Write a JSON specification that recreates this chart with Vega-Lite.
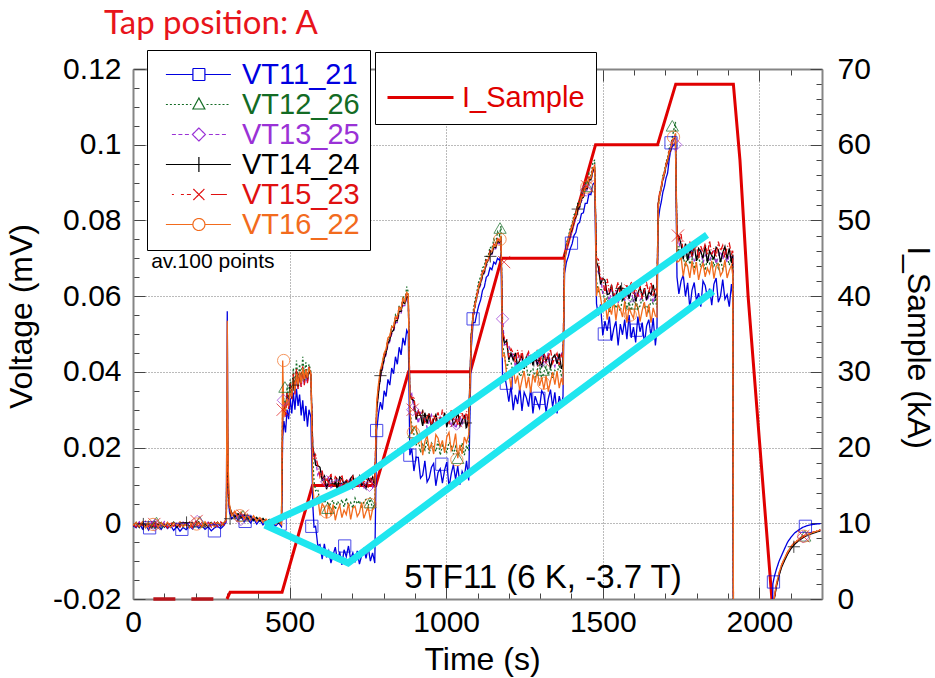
{
  "$schema": "https://vega.github.io/schema/vega-lite/v6.json",
  "width": 689,
  "height": 530,
  "autosize": {"type": "none"},
  "padding": {"left": 133, "top": 69, "right": 113, "bottom": 79},
  "background": "white",
  "config": {
    "view": {"stroke": null},
    "font": "Liberation Sans",
    "axis": {"labelFont": "Liberation Sans", "titleFont": "Liberation Sans", "labelColor": "black", "titleColor": "black", "titleFontWeight": "normal", "labelFlush": false, "labelOverlap": false}
  },
  "title": {"text": "Tap position: A", "anchor": "start", "frame": "group", "font": "Lato", "fontSize": 33, "fontWeight": "normal", "color": "#e8141b", "dx": -29, "offset": -17, "baseline": "alphabetic"},
  "layer": [
    {
      "data": {
        "values": "t,I\n65,0\n300,0\n310,0.9\n476,0.9\n573,15\n775,15\n880,30\n1077,30\n1177,45\n1375,45\n1477,60\n1675,60\n1733,68\n1917,68\n1938,58\n1964,40\n2002,20\n2040,0",
        "format": {"type": "csv", "parse": {"t": "number", "I": "number"}}
      },
      "encoding": {
        "x": {
          "field": "t", "type": "quantitative",
          "scale": {"domain": [0, 2200], "nice": false, "zero": false},
          "axis": {
            "orient": "top", "title": null, "labels": false,
            "values": [0,100,200,300,400,500,600,700,800,900,1000,1100,1200,1300,1400,1500,1600,1700,1800,1900,2000,2100,2200],
            "tickSize": {"condition": {"test": "datum.value % 500 === 0", "value": -12}, "value": -6},
            "tickColor": "#444444", "tickWidth": 1,
            "domainColor": "#858585", "domainWidth": 2, "grid": false
          }
        },
        "y": {
          "field": "I", "type": "quantitative",
          "scale": {"domain": [0, 70], "nice": false, "zero": false},
          "axis": {
            "orient": "right", "title": "I_Sample (kA)", "format": "d",
            "values": [0,2,4,6,8,10,12,14,16,18,20,22,24,26,28,30,32,34,36,38,40,42,44,46,48,50,52,54,56,58,60,62,64,66,68,70],
            "labelExpr": "datum.value % 10 === 0 ? datum.label : ''",
            "labelFontSize": 30, "labelPadding": 27,
            "tickSize": {"condition": {"test": "datum.value % 10 === 0", "value": -12}, "value": -6},
            "tickColor": "#444444", "tickWidth": 1,
            "domainColor": "#858585", "domainWidth": 2, "grid": false,
            "titleFontSize": 32, "titleAngle": 90, "titleX": 95, "titleY": 278, "titleBaseline": "middle", "titleAlign": "center"
          }
        }
      },
      "layer": [
        {
          "transform": [{"filter": "datum.t <= 300"}],
          "mark": {"type": "line", "color": "#b8141a", "strokeWidth": 3.5, "strokeDash": [22, 16]}
        },
        {
          "transform": [{"filter": "datum.t >= 300"}],
          "mark": {"type": "line", "strokeWidth": 3, "strokeJoin": "miter"},
          "encoding": {
            "color": {
              "datum": "I_Sample",
              "scale": {"domain": ["I_Sample"], "range": ["#e00000"]},
              "legend": {
                "title": null, "orient": "none", "legendX": 242, "legendY": -17,
                "padding": 11, "strokeColor": "#000000", "fillColor": "#ffffff",
                "symbolType": "M-1,0H1", "symbolSize": 4356, "symbolStrokeWidth": 3,
                "labelFont": "Liberation Sans", "labelFontSize": 29, "labelOffset": 7, "labelColor": "#e00000", "labelLimit": 300
              }
            }
          }
        }
      ]
    },
    {
      "encoding": {
        "x": {
          "field": "t", "type": "quantitative",
          "scale": {"domain": [0, 2200], "nice": false, "zero": false},
          "axis": {
            "orient": "bottom", "title": "Time (s)", "format": "d",
            "values": [0,100,200,300,400,500,600,700,800,900,1000,1100,1200,1300,1400,1500,1600,1700,1800,1900,2000,2100,2200],
            "labelExpr": "datum.value % 500 === 0 ? datum.label : ''",
            "labelFontSize": 30, "labelPadding": 20,
            "tickSize": {"condition": {"test": "datum.value % 500 === 0", "value": -12}, "value": -6},
            "tickColor": "#444444", "tickWidth": 1,
            "domainColor": "#858585", "domainWidth": 2,
            "grid": true, "gridColor": "#777777", "gridDash": [1, 2], "gridWidth": 1,
            "gridOpacity": {"condition": {"test": "datum.value % 500 === 0 && datum.value > 0", "value": 1}, "value": 0},
            "titleFontSize": 32, "titleX": 349, "titleY": 60, "titleBaseline": "middle"
          }
        },
        "y": {
          "field": "v", "type": "quantitative",
          "scale": {"domain": [-0.02, 0.12], "nice": false, "zero": false},
          "axis": {
            "orient": "left", "title": "Voltage (mV)",
            "values": [-0.02,-0.015,-0.01,-0.005,0,0.005,0.01,0.015,0.02,0.025,0.03,0.035,0.04,0.045,0.05,0.055,0.06,0.065,0.07,0.075,0.08,0.085,0.09,0.095,0.1,0.105,0.11,0.115,0.12],
            "labelExpr": "abs(datum.value * 50 - round(datum.value * 50)) < 0.001 ? (datum.value < 0 ? '-' + format(-datum.value, '~g') : format(datum.value, '~g')) : ''",
            "labelFontSize": 30, "labelPadding": 24,
            "tickSize": {"condition": {"test": "abs(datum.value * 50 - round(datum.value * 50)) < 0.001", "value": -12}, "value": -6},
            "tickColor": "#444444", "tickWidth": 1,
            "domainColor": "#858585", "domainWidth": 2,
            "grid": true, "gridColor": "#777777", "gridDash": [1, 2], "gridWidth": 1,
            "gridOpacity": {"condition": {"test": "abs(datum.value * 50 - round(datum.value * 50)) < 0.001 && datum.value > -0.019 && datum.value < 0.119", "value": 1}, "value": 0},
            "titleFontSize": 32, "titleAngle": -90, "titleX": -112, "titleY": 247, "titleBaseline": "middle", "titleAlign": "center"
          }
        }
      },
      "layer": [
        {
          "data": {
            "values": "t,VT11_21,VT12_26,VT13_25,VT14_24,VT15_23,VT16_22\n0,-0.0006,-0.0004,-0.0002,-0.0007,-0.0003,-0.0005\n10,-0.0012,0.0003,-0.0009,0.0001,-0.0010,0.0002\n20,0.0002,-0.0010,0.0004,-0.0011,0.0003,-0.0009\n30,-0.0015,0.0001,-0.0006,0.0002,-0.0006,0.0004\n40,-0.0004,-0.0008,0.0002,-0.0009,0.0005,-0.0012\n50,-0.0018,0.0004,-0.0011,0.0000,-0.0009,0.0001\n60,0.0001,-0.0006,0.0003,-0.0012,0.0002,-0.0007\n70,-0.0013,0.0002,-0.0008,0.0003,-0.0011,0.0005\n80,-0.0005,-0.0011,0.0001,-0.0005,0.0004,-0.0010\n90,-0.0016,0.0003,-0.0010,0.0002,-0.0007,0.0002\n100,-0.0003,-0.0007,0.0004,-0.0010,0.0001,-0.0008\n110,-0.0014,0.0001,-0.0007,0.0001,-0.0012,0.0003\n120,-0.0006,-0.0009,0.0002,-0.0008,0.0003,-0.0011\n130,-0.0019,0.0004,-0.0012,0.0003,-0.0008,0.0001\n140,-0.0008,-0.0005,0.0001,-0.0011,0.0002,-0.0006\n150,-0.0021,0.0002,-0.0009,0.0000,-0.0010,0.0004\n160,-0.0011,-0.0010,0.0003,-0.0007,0.0004,-0.0009\n170,-0.0017,0.0003,-0.0006,0.0002,-0.0006,0.0000\n180,-0.0007,-0.0008,0.0002,-0.0010,0.0003,-0.0012\n190,-0.0015,0.0001,-0.0011,0.0001,-0.0011,0.0003\n200,-0.0004,-0.0006,0.0005,-0.0008,0.0006,-0.0007\n210,-0.0013,0.0004,-0.0008,0.0003,-0.0009,0.0002\n220,-0.0006,-0.0009,0.0001,-0.0009,0.0002,-0.0010\n230,-0.0016,0.0002,-0.0010,0.0000,-0.0007,0.0004\n240,-0.0009,-0.0007,0.0003,-0.0011,0.0004,-0.0008\n250,-0.0020,0.0003,-0.0007,0.0002,-0.0010,0.0001\n260,-0.0012,-0.0010,0.0002,-0.0006,0.0003,-0.0009\n270,-0.0008,0.0002,-0.0009,0.0003,-0.0008,0.0003\n280,-0.0014,-0.0006,0.0001,-0.0008,0.0004,-0.0006\n290,-0.0006,0.0003,-0.0005,0.0001,-0.0005,0.0002\n298,0.0004,0.0008,0.0006,0.0010,0.0007,0.0009\n301,0.0560,0.0300,0.0330,0.0275,0.0240,0.0535\n304,0.0080,0.0090,0.0120,0.0100,0.0085,0.0150\n308,0.0030,0.0040,0.0035,0.0045,0.0038,0.0050\n315,0.0012,0.0025,0.0018,0.0028,0.0022,0.0020\n325,0.0022,0.0015,0.0030,0.0016,0.0031,0.0032\n335,0.0008,0.0028,0.0012,0.0025,0.0018,0.0014\n345,0.0018,0.0012,0.0024,0.0014,0.0027,0.0030\n355,0.0004,0.0024,0.0010,0.0022,0.0012,0.0011\n365,0.0015,0.0009,0.0021,0.0011,0.0023,0.0024\n375,0.0001,0.0020,0.0006,0.0018,0.0009,0.0008\n385,0.0012,0.0007,0.0017,0.0008,0.0019,0.0020\n395,-0.0002,0.0016,0.0004,0.0015,0.0006,0.0005\n405,0.0009,0.0004,0.0013,0.0006,0.0016,0.0015\n415,-0.0004,0.0013,0.0001,0.0012,0.0003,0.0003\n425,0.0006,0.0002,0.0010,0.0003,0.0012,0.0011\n435,-0.0006,0.0010,-0.0001,0.0009,0.0001,0.0000\n445,0.0003,0.0001,0.0008,0.0002,0.0010,0.0009\n455,-0.0008,0.0008,-0.0002,0.0007,-0.0001,-0.0002\n465,0.0001,-0.0001,0.0006,0.0000,0.0007,0.0006\n474,-0.0009,0.0006,-0.0003,0.0005,-0.0002,-0.0003\n478,0.0230,0.0320,0.0300,0.0290,0.0280,0.0430\n482,0.0270,0.0330,0.0310,0.0300,0.0320,0.0280\n487,0.0240,0.0290,0.0280,0.0310,0.0285,0.0305\n492,0.0300,0.0360,0.0330,0.0340,0.0345,0.0330\n497,0.0275,0.0320,0.0310,0.0315,0.0300,0.0310\n502,0.0330,0.0380,0.0350,0.0365,0.0370,0.0355\n507,0.0290,0.0345,0.0330,0.0330,0.0325,0.0335\n512,0.0345,0.0410,0.0370,0.0385,0.0395,0.0380\n517,0.0300,0.0360,0.0345,0.0350,0.0340,0.0350\n522,0.0355,0.0430,0.0385,0.0400,0.0410,0.0395\n527,0.0310,0.0375,0.0355,0.0360,0.0355,0.0365\n532,0.0340,0.0420,0.0390,0.0395,0.0400,0.0400\n537,0.0285,0.0380,0.0360,0.0370,0.0360,0.0370\n542,0.0325,0.0440,0.0400,0.0405,0.0415,0.0410\n547,0.0270,0.0390,0.0365,0.0375,0.0365,0.0380\n552,0.0310,0.0425,0.0395,0.0400,0.0410,0.0405\n557,0.0255,0.0385,0.0370,0.0380,0.0370,0.0385\n562,0.0300,0.0420,0.0400,0.0405,0.0415,0.0410\n568,0.0280,0.0400,0.0385,0.0390,0.0395,0.0395\n574,0.0050,0.0170,0.0190,0.0200,0.0205,0.0100\n578,-0.0010,0.0110,0.0175,0.0185,0.0170,0.0060\n583,-0.0008,0.0086,0.0169,0.0154,0.0181,0.0065\n590,-0.0059,0.0090,0.0128,0.0152,0.0153,0.0071\n597,-0.0056,0.0055,0.0140,0.0148,0.0123,0.0021\n604,-0.0095,0.0066,0.0134,0.0114,0.0139,0.0052\n611,-0.0054,0.0053,0.0102,0.0125,0.0102,0.0042\n618,-0.0090,0.0066,0.0103,0.0090,0.0119,0.0013\n625,-0.0073,0.0042,0.0123,0.0112,0.0107,0.0053\n632,-0.0105,0.0054,0.0094,0.0121,0.0130,0.0020\n639,-0.0083,0.0061,0.0100,0.0099,0.0098,0.0050\n646,-0.0063,0.0037,0.0114,0.0108,0.0123,0.0008\n653,-0.0100,0.0058,0.0119,0.0092,0.0116,0.0033\n660,-0.0075,0.0048,0.0089,0.0122,0.0103,0.0048\n667,-0.0110,0.0063,0.0107,0.0117,0.0128,0.0015\n674,-0.0070,0.0043,0.0112,0.0103,0.0094,0.0035\n681,-0.0088,0.0067,0.0092,0.0113,0.0117,0.0023\n688,-0.0060,0.0045,0.0110,0.0094,0.0108,0.0053\n695,-0.0095,0.0055,0.0121,0.0119,0.0101,0.0010\n702,-0.0078,0.0040,0.0087,0.0126,0.0125,0.0040\n709,-0.0103,0.0066,0.0105,0.0097,0.0119,0.0045\n716,-0.0073,0.0051,0.0118,0.0104,0.0096,0.0018\n723,-0.0108,0.0060,0.0098,0.0124,0.0114,0.0028\n730,-0.0085,0.0039,0.0116,0.0101,0.0126,0.0055\n737,-0.0065,0.0057,0.0091,0.0106,0.0103,0.0013\n744,-0.0093,0.0063,0.0109,0.0092,0.0123,0.0030\n751,-0.0063,0.0046,0.0101,0.0119,0.0094,0.0043\n758,-0.0100,0.0064,0.0123,0.0110,0.0117,0.0008\n765,-0.0078,0.0037,0.0096,0.0122,0.0105,0.0038\n772,-0.0105,0.0055,0.0112,0.0095,0.0128,0.0045\n778,0.0245,0.0300,0.0290,0.0300,0.0310,0.0320\n784,0.0290,0.0360,0.0350,0.0345,0.0360,0.0370\n790,0.0320,0.0400,0.0385,0.0390,0.0395,0.0405\n796,0.0300,0.0420,0.0405,0.0410,0.0420,0.0425\n802,0.0350,0.0450,0.0430,0.0435,0.0445,0.0450\n808,0.0335,0.0455,0.0445,0.0450,0.0455,0.0460\n814,0.0380,0.0490,0.0470,0.0475,0.0485,0.0490\n820,0.0365,0.0490,0.0480,0.0485,0.0490,0.0495\n826,0.0410,0.0520,0.0500,0.0505,0.0515,0.0520\n832,0.0395,0.0515,0.0505,0.0510,0.0515,0.0520\n838,0.0440,0.0550,0.0530,0.0535,0.0545,0.0545\n844,0.0420,0.0540,0.0530,0.0535,0.0540,0.0545\n850,0.0465,0.0575,0.0555,0.0560,0.0570,0.0570\n856,0.0445,0.0565,0.0555,0.0560,0.0565,0.0565\n862,0.0490,0.0600,0.0575,0.0585,0.0590,0.0595\n868,0.0470,0.0585,0.0575,0.0580,0.0585,0.0585\n874,0.0510,0.0625,0.0595,0.0600,0.0610,0.0610\n879,0.0500,0.0610,0.0590,0.0595,0.0600,0.0605\n884,0.0180,0.0300,0.0335,0.0340,0.0345,0.0300\n890,0.0197,0.0260,0.0342,0.0328,0.0329,0.0236\n897,0.0138,0.0235,0.0297,0.0324,0.0335,0.0252\n904,0.0175,0.0206,0.0296,0.0274,0.0282,0.0257\n911,0.0174,0.0227,0.0263,0.0296,0.0298,0.0209\n918,0.0119,0.0187,0.0294,0.0285,0.0280,0.0233\n925,0.0127,0.0208,0.0264,0.0257,0.0298,0.0180\n932,0.0165,0.0194,0.0278,0.0292,0.0263,0.0216\n939,0.0109,0.0220,0.0252,0.0263,0.0280,0.0231\n946,0.0120,0.0184,0.0270,0.0290,0.0291,0.0195\n953,0.0148,0.0212,0.0286,0.0252,0.0256,0.0210\n960,0.0158,0.0204,0.0256,0.0274,0.0287,0.0183\n967,0.0099,0.0190,0.0276,0.0287,0.0271,0.0234\n974,0.0134,0.0218,0.0248,0.0259,0.0293,0.0225\n981,0.0144,0.0180,0.0280,0.0276,0.0265,0.0201\n988,0.0106,0.0206,0.0266,0.0265,0.0300,0.0219\n995,0.0141,0.0196,0.0288,0.0292,0.0267,0.0186\n1002,0.0162,0.0188,0.0260,0.0254,0.0282,0.0228\n1009,0.0095,0.0214,0.0274,0.0281,0.0260,0.0240\n1016,0.0130,0.0208,0.0254,0.0285,0.0298,0.0192\n1023,0.0155,0.0182,0.0278,0.0261,0.0276,0.0204\n1030,0.0116,0.0202,0.0250,0.0270,0.0289,0.0237\n1037,0.0151,0.0178,0.0268,0.0294,0.0258,0.0172\n1044,0.0102,0.0190,0.0284,0.0257,0.0285,0.0207\n1051,0.0137,0.0212,0.0262,0.0272,0.0293,0.0183\n1058,0.0123,0.0180,0.0286,0.0283,0.0269,0.0228\n1065,0.0165,0.0206,0.0256,0.0252,0.0296,0.0213\n1072,0.0113,0.0192,0.0274,0.0279,0.0256,0.0234\n1080,0.0460,0.0500,0.0490,0.0495,0.0500,0.0480\n1086,0.0530,0.0560,0.0540,0.0545,0.0555,0.0550\n1092,0.0530,0.0590,0.0570,0.0575,0.0580,0.0575\n1098,0.0555,0.0610,0.0595,0.0600,0.0605,0.0600\n1104,0.0575,0.0640,0.0615,0.0620,0.0630,0.0625\n1110,0.0590,0.0650,0.0630,0.0635,0.0640,0.0640\n1116,0.0615,0.0675,0.0650,0.0655,0.0665,0.0660\n1122,0.0625,0.0680,0.0660,0.0665,0.0670,0.0670\n1128,0.0650,0.0705,0.0680,0.0685,0.0695,0.0690\n1134,0.0655,0.0705,0.0690,0.0695,0.0700,0.0695\n1140,0.0675,0.0730,0.0705,0.0710,0.0720,0.0715\n1146,0.0670,0.0725,0.0710,0.0712,0.0718,0.0718\n1152,0.0690,0.0750,0.0725,0.0730,0.0738,0.0735\n1158,0.0685,0.0740,0.0725,0.0728,0.0732,0.0732\n1164,0.0700,0.0770,0.0740,0.0745,0.0752,0.0750\n1170,0.0695,0.0760,0.0738,0.0742,0.0748,0.0745\n1175,0.0710,0.0785,0.0750,0.0755,0.0745,0.0760\n1180,0.0380,0.0470,0.0540,0.0500,0.0505,0.0440\n1186,0.0393,0.0444,0.0471,0.0476,0.0489,0.0446\n1193,0.0361,0.0408,0.0474,0.0483,0.0487,0.0393\n1200,0.0321,0.0428,0.0472,0.0432,0.0438,0.0401\n1207,0.0364,0.0427,0.0436,0.0449,0.0461,0.0359\n1214,0.0299,0.0394,0.0450,0.0431,0.0450,0.0410\n1221,0.0339,0.0398,0.0412,0.0450,0.0423,0.0369\n1228,0.0315,0.0420,0.0436,0.0415,0.0458,0.0390\n1235,0.0360,0.0388,0.0446,0.0432,0.0429,0.0351\n1242,0.0297,0.0394,0.0422,0.0443,0.0456,0.0378\n1249,0.0346,0.0410,0.0432,0.0408,0.0418,0.0402\n1256,0.0332,0.0416,0.0414,0.0439,0.0440,0.0357\n1263,0.0308,0.0382,0.0448,0.0423,0.0453,0.0387\n1270,0.0357,0.0402,0.0442,0.0445,0.0425,0.0345\n1277,0.0290,0.0408,0.0426,0.0417,0.0442,0.0393\n1284,0.0336,0.0386,0.0438,0.0452,0.0431,0.0372\n1291,0.0318,0.0406,0.0416,0.0419,0.0458,0.0405\n1298,0.0304,0.0418,0.0444,0.0434,0.0420,0.0363\n1305,0.0350,0.0380,0.0452,0.0412,0.0447,0.0384\n1312,0.0339,0.0400,0.0420,0.0450,0.0451,0.0354\n1319,0.0294,0.0414,0.0428,0.0428,0.0427,0.0390\n1326,0.0329,0.0392,0.0450,0.0441,0.0436,0.0348\n1333,0.0353,0.0412,0.0424,0.0410,0.0460,0.0375\n1340,0.0307,0.0384,0.0430,0.0437,0.0423,0.0399\n1347,0.0346,0.0404,0.0414,0.0445,0.0438,0.0366\n1354,0.0290,0.0396,0.0444,0.0421,0.0449,0.0402\n1361,0.0336,0.0420,0.0434,0.0448,0.0418,0.0357\n1368,0.0311,0.0390,0.0448,0.0408,0.0445,0.0384\n1373,0.0335,0.0395,0.0432,0.0420,0.0440,0.0365\n1378,0.0660,0.0700,0.0690,0.0695,0.0700,0.0680\n1384,0.0690,0.0740,0.0725,0.0730,0.0735,0.0730\n1390,0.0705,0.0755,0.0740,0.0745,0.0750,0.0748\n1396,0.0725,0.0780,0.0760,0.0765,0.0772,0.0770\n1402,0.0738,0.0790,0.0772,0.0778,0.0784,0.0782\n1408,0.0760,0.0815,0.0795,0.0800,0.0808,0.0805\n1414,0.0768,0.0820,0.0805,0.0810,0.0815,0.0813\n1420,0.0790,0.0845,0.0825,0.0830,0.0838,0.0835\n1426,0.0795,0.0848,0.0832,0.0836,0.0842,0.0840\n1432,0.0818,0.0872,0.0852,0.0857,0.0865,0.0862\n1438,0.0820,0.0872,0.0857,0.0861,0.0867,0.0864\n1444,0.0845,0.0898,0.0878,0.0883,0.0890,0.0887\n1450,0.0845,0.0895,0.0880,0.0884,0.0890,0.0888\n1456,0.0870,0.0925,0.0902,0.0908,0.0915,0.0912\n1462,0.0868,0.0918,0.0903,0.0907,0.0913,0.0911\n1468,0.0895,0.0950,0.0925,0.0930,0.0938,0.0935\n1474,0.0900,0.0960,0.0935,0.0940,0.0945,0.0945\n1480,0.0580,0.0640,0.0680,0.0690,0.0700,0.0600\n1486,0.0549,0.0612,0.0661,0.0677,0.0697,0.0625\n1493,0.0578,0.0617,0.0654,0.0631,0.0645,0.0596\n1500,0.0496,0.0616,0.0606,0.0647,0.0646,0.0559\n1507,0.0534,0.0581,0.0624,0.0642,0.0607,0.0595\n1514,0.0508,0.0595,0.0613,0.0604,0.0646,0.0538\n1521,0.0546,0.0558,0.0586,0.0606,0.0610,0.0572\n1528,0.0482,0.0582,0.0618,0.0630,0.0627,0.0551\n1535,0.0514,0.0592,0.0592,0.0595,0.0596,0.0590\n1542,0.0534,0.0568,0.0616,0.0601,0.0617,0.0536\n1549,0.0470,0.0578,0.0582,0.0619,0.0637,0.0578\n1556,0.0526,0.0560,0.0602,0.0626,0.0601,0.0566\n1563,0.0498,0.0594,0.0614,0.0588,0.0625,0.0545\n1570,0.0538,0.0588,0.0588,0.0610,0.0591,0.0587\n1577,0.0486,0.0572,0.0604,0.0617,0.0629,0.0530\n1584,0.0550,0.0584,0.0594,0.0593,0.0613,0.0569\n1591,0.0490,0.0562,0.0618,0.0615,0.0639,0.0554\n1598,0.0518,0.0590,0.0584,0.0628,0.0605,0.0542\n1605,0.0478,0.0598,0.0608,0.0586,0.0622,0.0581\n1612,0.0546,0.0566,0.0612,0.0608,0.0598,0.0572\n1619,0.0506,0.0574,0.0590,0.0623,0.0627,0.0533\n1626,0.0530,0.0596,0.0598,0.0599,0.0593,0.0563\n1633,0.0474,0.0570,0.0620,0.0621,0.0615,0.0584\n1640,0.0522,0.0576,0.0586,0.0590,0.0634,0.0545\n1647,0.0538,0.0560,0.0600,0.0612,0.0608,0.0578\n1654,0.0494,0.0590,0.0610,0.0604,0.0637,0.0530\n1661,0.0542,0.0580,0.0582,0.0630,0.0601,0.0569\n1668,0.0470,0.0594,0.0606,0.0597,0.0622,0.0548\n1673,0.0510,0.0570,0.0600,0.0605,0.0610,0.0545\n1677,0.0800,0.0830,0.0840,0.0845,0.0850,0.0835\n1682,0.0830,0.0870,0.0865,0.0870,0.0875,0.0868\n1687,0.0850,0.0890,0.0882,0.0886,0.0892,0.0888\n1692,0.0875,0.0918,0.0905,0.0910,0.0915,0.0912\n1697,0.0890,0.0930,0.0918,0.0922,0.0928,0.0925\n1702,0.0912,0.0955,0.0940,0.0945,0.0950,0.0948\n1707,0.0925,0.0965,0.0952,0.0957,0.0962,0.0960\n1712,0.0960,0.0990,0.0972,0.0977,0.0984,0.0980\n1717,0.0985,0.0998,0.0982,0.0986,0.0992,0.0990\n1722,0.0995,0.1020,0.1000,0.1005,0.1012,0.1008\n1727,0.1000,0.1040,0.1010,0.1015,0.1020,0.1018\n1732,0.1005,0.1060,0.1005,0.1020,0.1025,0.1030\n1737,0.0650,0.0700,0.0740,0.0760,0.0770,0.0690\n1743,0.0606,0.0732,0.0744,0.0759,0.0747,0.0692\n1750,0.0640,0.0698,0.0710,0.0737,0.0764,0.0704\n1757,0.0656,0.0704,0.0731,0.0697,0.0714,0.0652\n1764,0.0599,0.0677,0.0731,0.0739,0.0737,0.0689\n1771,0.0635,0.0711,0.0699,0.0694,0.0721,0.0679\n1778,0.0568,0.0684,0.0703,0.0722,0.0744,0.0648\n1785,0.0616,0.0698,0.0725,0.0705,0.0705,0.0693\n1792,0.0636,0.0672,0.0693,0.0736,0.0724,0.0657\n1799,0.0588,0.0690,0.0699,0.0693,0.0736,0.0690\n1806,0.0608,0.0706,0.0715,0.0726,0.0698,0.0643\n1813,0.0572,0.0676,0.0721,0.0717,0.0732,0.0671\n1820,0.0640,0.0696,0.0687,0.0700,0.0715,0.0688\n1827,0.0628,0.0668,0.0707,0.0734,0.0739,0.0651\n1834,0.0596,0.0700,0.0713,0.0688,0.0708,0.0674\n1841,0.0620,0.0686,0.0691,0.0719,0.0746,0.0660\n1848,0.0576,0.0708,0.0711,0.0707,0.0710,0.0693\n1855,0.0632,0.0680,0.0723,0.0698,0.0727,0.0646\n1862,0.0648,0.0694,0.0685,0.0729,0.0703,0.0679\n1869,0.0584,0.0674,0.0705,0.0722,0.0744,0.0685\n1876,0.0600,0.0698,0.0719,0.0690,0.0720,0.0654\n1883,0.0644,0.0670,0.0697,0.0714,0.0734,0.0665\n1890,0.0592,0.0688,0.0717,0.0731,0.0700,0.0696\n1897,0.0604,0.0704,0.0689,0.0700,0.0729,0.0648\n1904,0.0572,0.0682,0.0709,0.0726,0.0739,0.0668\n1911,0.0632,0.0706,0.0701,0.0688,0.0712,0.0682\n1915,0.0600,0.0680,0.0710,0.0710,0.0720,0.0655\n1918,-0.0600,-0.0600,-0.0600,-0.0600,-0.0600,-0.0600\n2038,-0.0600,-0.0600,-0.0600,-0.0600,-0.0600,-0.0600\n2043,-0.0160,-0.0240,-0.0240,-0.0240,-0.0240,-0.0230\n2048,-0.0140,-0.0195,-0.0195,-0.0198,-0.0196,-0.0192\n2055,-0.0120,-0.0160,-0.0162,-0.0165,-0.0160,-0.0158\n2063,-0.0100,-0.0132,-0.0135,-0.0138,-0.0133,-0.0130\n2071,-0.0085,-0.0112,-0.0114,-0.0116,-0.0110,-0.0110\n2080,-0.0068,-0.0095,-0.0097,-0.0099,-0.0094,-0.0093\n2090,-0.0050,-0.0078,-0.0080,-0.0082,-0.0076,-0.0077\n2100,-0.0038,-0.0064,-0.0066,-0.0068,-0.0062,-0.0063\n2112,-0.0026,-0.0053,-0.0055,-0.0056,-0.0051,-0.0052\n2125,-0.0018,-0.0044,-0.0045,-0.0046,-0.0042,-0.0043\n2138,-0.0011,-0.0037,-0.0038,-0.0039,-0.0035,-0.0036\n2150,-0.0007,-0.0031,-0.0032,-0.0033,-0.0030,-0.0031\n2165,-0.0004,-0.0026,-0.0027,-0.0028,-0.0025,-0.0026\n2180,-0.0002,-0.0022,-0.0023,-0.0024,-0.0021,-0.0022\n2195,-0.0001,-0.0018,-0.0019,-0.0020,-0.0017,-0.0018",
            "format": {"type": "csv", "parse": {"t": "number", "VT11_21": "number", "VT12_26": "number", "VT13_25": "number", "VT14_24": "number", "VT15_23": "number", "VT16_22": "number"}}
          },
          "transform": [{"fold": ["VT11_21", "VT12_26", "VT13_25", "VT14_24", "VT15_23", "VT16_22"], "as": ["series", "v"]}],
          "mark": {"type": "line", "strokeWidth": 1.3, "clip": true},
          "encoding": {
            "color": {
              "field": "series", "type": "nominal",
              "scale": {"domain": ["VT11_21", "VT12_26", "VT13_25", "VT14_24", "VT15_23", "VT16_22"], "range": ["#0000e0", "#136b24", "#9a32d6", "#000000", "#e01010", "#f26b1d"]},
              "legend": {
                "title": null, "orient": "none", "legendX": 14, "legendY": -19,
                "padding": 10, "strokeColor": "#000000", "fillColor": "#ffffff",
                "symbolSize": 400, "symbolStrokeWidth": 1.2, "symbolFillColor": "transparent",
                "labelFont": "Liberation Sans", "labelFontSize": 29, "labelOffset": 56, "rowPadding": -5, "labelLimit": 300,
                "encode": {
                  "symbols": {"update": {
                    "shape": {"signal": "datum.value === 'VT11_21' ? 'M-0.56,0H2.14M3.34,0H5.94M2.14,-0.6H3.34V0.6H2.14Z' : datum.value === 'VT12_26' ? 'M-0.56,0H-0.36M-0.16,0H0.04M0.24,0H0.44M0.64,0H0.84M1.04,0H1.24M1.44,0H1.64M1.84,0H1.99M3.5,0H3.7M3.9,0H4.1M4.3,0H4.5M4.7,0H4.9M5.1,0H5.3M5.5,0H5.7M2.74,-0.65L3.34,0.45H2.14Z' : datum.value === 'VT13_25' ? 'M0.04,0H0.44M0.69,0H1.09M1.34,0H1.74M3.74,0H4.14M4.39,0H4.79M5.04,0H5.44M2.74,-0.65L3.39,0L2.74,0.65L2.09,0Z' : datum.value === 'VT14_24' ? 'M-0.56,0H5.94M2.74,-0.75V0.75' : datum.value === 'VT15_23' ? 'M0.04,0H0.24M0.94,0H1.24M1.54,0H1.94M3.94,0H5.54M2.19,-0.55L3.29,0.55M2.19,0.55L3.29,-0.55' : 'M-0.56,0H2.14M3.34,0H5.94M2.14,0A0.6,0.6,0,1,0,3.34,0A0.6,0.6,0,1,0,2.14,0'"},
                    "fill": {"value": "transparent"},
                    "strokeDash": {"value": [1, 0]}
                  }},
                  "labels": {"update": {
                    "fill": {"signal": "datum.value === 'VT11_21' ? '#0000e0' : datum.value === 'VT12_26' ? '#136b24' : datum.value === 'VT13_25' ? '#9a32d6' : datum.value === 'VT14_24' ? '#000000' : datum.value === 'VT15_23' ? '#e01010' : '#f26b1d'"}
                  }}
                }
              }
            },
            "strokeDash": {
              "field": "series", "type": "nominal",
              "scale": {"domain": ["VT11_21", "VT12_26", "VT13_25", "VT14_24", "VT15_23", "VT16_22"], "range": [[1, 0], [2, 2], [4, 3], [1, 0], [6, 2, 1, 2], [1, 0]]},
              "legend": null
            }
          }
        },
        {
          "data": {
            "values": "series,t,v\nVT11_21,53,-0.0012\nVT11_21,156,-0.0016\nVT11_21,260,-0.0020\nVT11_21,358,0.0005\nVT11_21,470,-0.0002\nVT11_21,571,-0.0008\nVT11_21,676,-0.0060\nVT11_21,778,0.0245\nVT11_21,884,0.0180\nVT11_21,986,0.0156\nVT11_21,1086,0.0540\nVT11_21,1192,0.0370\nVT11_21,1296,0.0330\nVT11_21,1400,0.0740\nVT11_21,1505,0.0500\nVT11_21,1607,0.0510\nVT11_21,1718,0.1005\nVT11_21,2045,-0.0155\nVT11_21,2147,-0.0008\nVT12_26,75,0.0002\nVT12_26,213,0.0004\nVT12_26,351,0.0020\nVT12_26,485,0.0360\nVT12_26,622,0.0040\nVT12_26,757,0.0055\nVT12_26,897,0.0240\nVT12_26,1037,0.0172\nVT12_26,1172,0.0780\nVT12_26,1310,0.0405\nVT12_26,1450,0.0890\nVT12_26,1594,0.0580\nVT12_26,1722,0.1050\nVT12_26,2145,-0.0033\nVT13_25,70,-0.0005\nVT13_25,205,0.0005\nVT13_25,345,0.0010\nVT13_25,480,0.0325\nVT13_25,618,0.0110\nVT13_25,755,0.0100\nVT13_25,893,0.0300\nVT13_25,1033,0.0262\nVT13_25,1180,0.0540\nVT13_25,1308,0.0430\nVT13_25,1447,0.0880\nVT13_25,1590,0.0600\nVT13_25,1733,0.1000\nVT13_25,2140,-0.0036\nVT14_24,33,-0.0002\nVT14_24,171,0.0002\nVT14_24,310,0.0012\nVT14_24,512,0.0365\nVT14_24,650,0.0105\nVT14_24,790,0.0390\nVT14_24,925,0.0285\nVT14_24,1063,0.0265\nVT14_24,1141,0.0705\nVT14_24,1280,0.0430\nVT14_24,1420,0.0830\nVT14_24,1560,0.0620\nVT14_24,1766,0.0720\nVT14_24,2110,-0.0062\nVT15_23,68,-0.0002\nVT15_23,203,0.0006\nVT15_23,350,0.0020\nVT15_23,478,0.0300\nVT15_23,616,0.0115\nVT15_23,756,0.0110\nVT15_23,893,0.0300\nVT15_23,1032,0.0270\nVT15_23,1185,0.0690\nVT15_23,1310,0.0430\nVT15_23,1450,0.0890\nVT15_23,1588,0.0615\nVT15_23,1740,0.0760\nVT15_23,2140,-0.0034\nVT16_22,64,-0.0003\nVT16_22,203,-0.0002\nVT16_22,341,0.0020\nVT16_22,481,0.0430\nVT16_22,618,0.0030\nVT16_22,757,0.0050\nVT16_22,895,0.0240\nVT16_22,1034,0.0168\nVT16_22,1172,0.0750\nVT16_22,1311,0.0370\nVT16_22,1449,0.0888\nVT16_22,1588,0.0550\nVT16_22,1726,0.1020\nVT16_22,2142,-0.0034",
            "format": {"type": "csv", "parse": {"t": "number", "v": "number"}}
          },
          "mark": {"type": "point", "filled": false, "strokeWidth": 1, "size": 150, "clip": true},
          "encoding": {
            "color": {"field": "series", "type": "nominal", "legend": null},
            "shape": {
              "field": "series", "type": "nominal",
              "scale": {"domain": ["VT11_21", "VT12_26", "VT13_25", "VT14_24", "VT15_23", "VT16_22"], "range": ["square", "triangle-up", "diamond", "M-1,0H1M0,-1V1", "M-1,-1L1,1M-1,1L1,-1", "circle"]},
              "legend": null
            }
          }
        },
        {
          "data": {"values": [
            {"path": "upper", "t": 421, "v": -0.0005},
            {"path": "upper", "t": 699, "v": 0.0101},
            {"path": "upper", "t": 1833, "v": 0.0762},
            {"path": "lower", "t": 421, "v": -0.0005},
            {"path": "lower", "t": 687, "v": -0.0105},
            {"path": "lower", "t": 1852, "v": 0.0613}
          ]},
          "mark": {"type": "line", "color": "#1fe6ef", "strokeWidth": 7, "strokeCap": "butt", "strokeJoin": "miter"},
          "encoding": {"detail": {"field": "path", "type": "nominal"}}
        },
        {
          "data": {"values": [{"t": 58, "v": 0.069, "label": "av.100 points"}]},
          "mark": {"type": "text", "align": "left", "baseline": "middle", "fontSize": 21, "font": "Liberation Sans", "color": "#000000"},
          "encoding": {"text": {"field": "label"}}
        },
        {
          "data": {"values": [{"t": 866, "v": -0.0145, "label": "5TF11 (6 K, -3.7 T)"}]},
          "mark": {"type": "text", "align": "left", "baseline": "middle", "fontSize": 33, "font": "Liberation Sans", "color": "#000000"},
          "encoding": {"text": {"field": "label"}}
        }
      ]
    }
  ],
  "resolve": {"scale": {"y": "independent", "color": "independent"}, "axis": {"x": "independent"}}
}
